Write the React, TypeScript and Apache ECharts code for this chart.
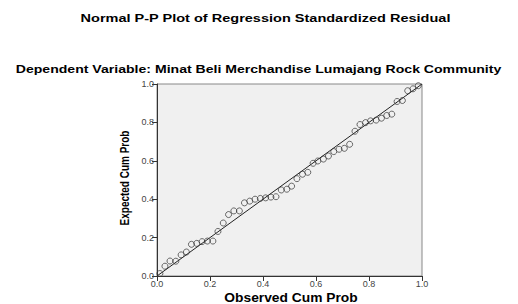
import React, { useEffect, useRef } from "react";
import * as echarts from "echarts";

const observed = [
  0.011, 0.03, 0.049, 0.071, 0.091, 0.111, 0.13, 0.15, 0.17, 0.19,
  0.211, 0.23, 0.25, 0.27, 0.29, 0.311, 0.33, 0.35, 0.37, 0.39,
  0.41, 0.43, 0.449, 0.469, 0.49, 0.508, 0.528, 0.549, 0.569, 0.589,
  0.607, 0.628, 0.647, 0.667, 0.687, 0.707, 0.727, 0.747, 0.766, 0.787,
  0.806, 0.827, 0.847, 0.867, 0.886, 0.906, 0.926, 0.946, 0.966, 0.986,
];
const expected = [
  0.013, 0.051, 0.078, 0.077, 0.11, 0.125, 0.165, 0.17, 0.179, 0.182,
  0.182, 0.232, 0.276, 0.32, 0.339, 0.339, 0.381, 0.39, 0.4, 0.404,
  0.407, 0.411, 0.413, 0.448, 0.452, 0.468, 0.507, 0.53, 0.54, 0.587,
  0.599, 0.609, 0.625, 0.648, 0.66, 0.665, 0.686, 0.754, 0.789, 0.799,
  0.808, 0.812, 0.822, 0.836, 0.843, 0.909, 0.914, 0.965, 0.975, 0.991,
];
const refLine = [
  [0, 0],
  [1, 1],
];
const titleText = "Normal P-P Plot of Regression Standardized Residual";
const subtitleText = "Dependent Variable: Minat Beli Merchandise Lumajang Rock Community";
const xName = "Observed Cum Prob";
const yName = "Expected Cum Prob";

export default function App() {
  const ref = useRef<HTMLDivElement>(null);
  useEffect(() => {
    if (!ref.current) return;
    const chart = echarts.init(ref.current, undefined, { renderer: "svg" });
    const font = "Liberation Sans, Arial, sans-serif";
    const axisCommon = {
      type: "value" as const,
      min: 0,
      max: 1,
      interval: 0.2,
      axisLine: { show: true, lineStyle: { color: "#333", width: 1 } },
      axisTick: { show: true, length: 5, lineStyle: { color: "#333" } },
      axisLabel: {
        fontFamily: font,
        fontSize: 9,
        color: "#444",
        margin: 3,
        formatter: (v: number) => v.toFixed(1),
      },
      splitLine: { show: false },
    };
    const boldText = (
      text: string,
      x: number,
      y: number,
      size: number,
      scaleX: number,
      scaleY = 1,
      rotation = 0
    ) => ({
      type: "text",
      x,
      y,
      scaleX,
      scaleY,
      rotation,
      silent: true,
      style: {
        text,
        fontFamily: font,
        fontWeight: "bold",
        fontSize: size,
        fill: "#000",
        textAlign: "center",
        textVerticalAlign: "middle",
      },
    });
    chart.setOption({
      animation: false,
      backgroundColor: "#fff",
      graphic: [
        boldText(titleText, 265.5, 18.5, 11, 1.32),
        boldText(subtitleText, 258.5, 69.5, 11, 1.28),
        boldText(xName, 291, 297.5, 12, 1.15),
        boldText(yName, 125, 178, 10, 1, 1.3, Math.PI / 2),
      ],
      grid: {
        left: 157,
        top: 84,
        width: 265,
        height: 192,
        show: true,
        backgroundColor: "#f0f0f0",
        borderColor: "#888",
        borderWidth: 1,
      },
      xAxis: { ...axisCommon },
      yAxis: { ...axisCommon },
      series: [
        {
          type: "line",
          data: refLine,
          showSymbol: false,
          symbol: "none",
          lineStyle: { color: "#222", width: 1 },
          z: 2,
        },
        {
          type: "scatter",
          data: observed.map((x, i) => [x, expected[i]]),
          symbol: "circle",
          symbolSize: 6,
          itemStyle: { color: "rgba(0,0,0,0)", borderColor: "#333", borderWidth: 0.9 },
          z: 3,
        },
      ],
    });
    return () => chart.dispose();
  }, []);
  return (
    <div
      ref={ref}
      style={{ position: "absolute", left: 0, top: 0, width: 518, height: 304 }}
    />
  );
}
